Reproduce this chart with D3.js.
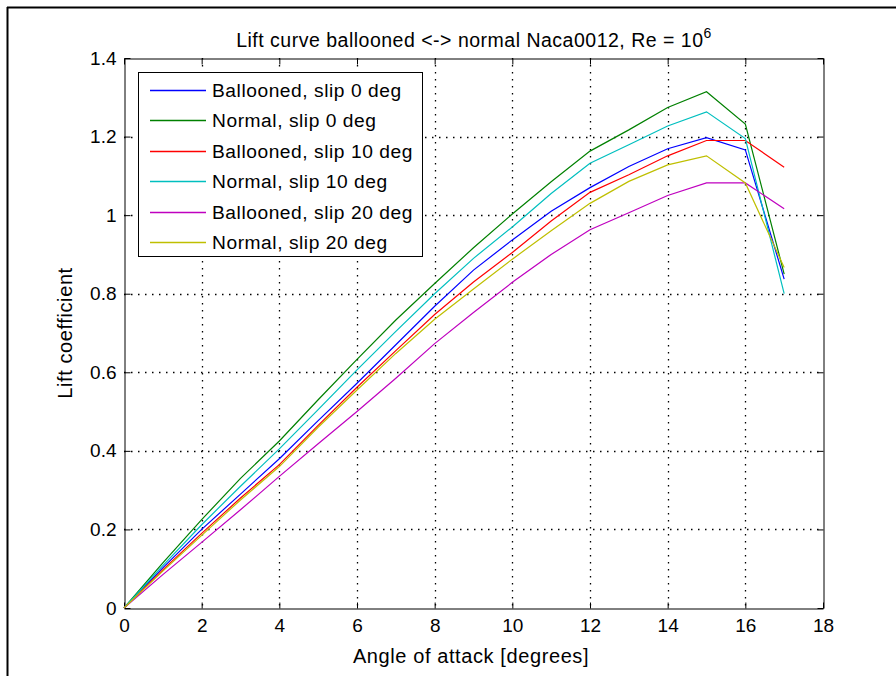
<!DOCTYPE html>
<html><head><meta charset="utf-8">
<script src="https://cdn.jsdelivr.net/npm/d3@7"></script>
<style>
body{margin:0;background:#fff;}
svg{display:block;font-family:"Liberation Sans",Arial,sans-serif;}
</style></head>
<body><svg id="c" width="896" height="676"></svg>
<script>
const angles = [0,1,2,3,4,5,6,7,8,9,10,11,12,13,14,15,16,17];
const balloonedSlip0 = [0,0.102,0.200,0.290,0.380,0.477,0.572,0.670,0.768,0.860,0.937,1.010,1.070,1.124,1.169,1.197,1.166,0.837];
const normalSlip0    = [0,0.115,0.225,0.330,0.425,0.530,0.633,0.733,0.826,0.917,1.003,1.085,1.163,1.217,1.274,1.314,1.232,0.850];
const balloonedSlip10= [0,0.097,0.190,0.280,0.365,0.465,0.562,0.655,0.747,0.830,0.905,0.985,1.058,1.103,1.151,1.190,1.190,1.122];
const normalSlip10   = [0,0.108,0.212,0.310,0.405,0.505,0.606,0.704,0.800,0.890,0.970,1.055,1.132,1.179,1.227,1.263,1.195,0.800];
const balloonedSlip20= [0,0.085,0.167,0.250,0.335,0.418,0.500,0.585,0.673,0.752,0.829,0.900,0.963,1.006,1.050,1.082,1.082,1.016];
const normalSlip20   = [0,0.094,0.185,0.275,0.360,0.460,0.555,0.648,0.735,0.812,0.888,0.960,1.030,1.086,1.128,1.151,1.082,0.867];
const seriesNames = ["Ballooned, slip 0 deg","Normal, slip 0 deg","Ballooned, slip 10 deg","Normal, slip 10 deg","Ballooned, slip 20 deg","Normal, slip 20 deg"];
const seriesValues = [balloonedSlip0,normalSlip0,balloonedSlip10,normalSlip10,balloonedSlip20,normalSlip20];
const seriesColors = ["#0000ff","#008000","#ff0000","#00bfbf","#bf00bf","#bfbf00"];
const xTicks = [0,2,4,6,8,10,12,14,16,18];
const yTicks = [0,0.2,0.4,0.6,0.8,1,1.2,1.4];

const svg = d3.select("#c");
const L=124,R=823,T=58,B=608;
const x = d3.scaleLinear().domain([0,18]).range([L,R]);
const y = d3.scaleLinear().domain([0,1.4]).range([B,T]);

// outer frame (top and left)
svg.append("line").attr("x1",7).attr("x2",896).attr("y1",7.5).attr("y2",7.5).attr("stroke","#000").attr("stroke-width",2);
svg.append("line").attr("x1",7.5).attr("x2",7.5).attr("y1",7).attr("y2",676).attr("stroke","#000").attr("stroke-width",2);

// grid
const g = svg.append("g");
xTicks.slice(1,-1).forEach(t=>{
  g.append("line").attr("x1",Math.round(x(t))+0.5).attr("x2",Math.round(x(t))+0.5).attr("y1",T).attr("y2",B)
   .attr("stroke","#000").attr("stroke-width",1.3).attr("stroke-dasharray","1.5,5.5");
});
yTicks.slice(1,-1).forEach(t=>{
  g.append("line").attr("y1",Math.round(y(t))+0.5).attr("y2",Math.round(y(t))+0.5).attr("x1",L).attr("x2",R)
   .attr("stroke","#000").attr("stroke-width",1.3).attr("stroke-dasharray","1.5,5.5");
});

// axes with inward ticks
const fmt = d=> d===0?"0":(Number.isInteger(d)?String(d):d3.format(".1f")(d));
const ax = svg.append("g").attr("transform",`translate(0,${B+0.5})`)
  .call(d3.axisBottom(x).tickValues(xTicks).tickSizeInner(-6).tickSizeOuter(0).tickPadding(12).tickFormat(fmt));
const axT = svg.append("g").attr("transform",`translate(0,${T+0.5})`)
  .call(d3.axisTop(x).tickValues(xTicks).tickSizeInner(-6).tickSizeOuter(0).tickFormat(""));
const ay = svg.append("g").attr("transform",`translate(${L+0.5},0)`)
  .call(d3.axisLeft(y).tickValues(yTicks).tickSizeInner(-6).tickSizeOuter(0).tickPadding(10).tickFormat(fmt));
const ayR = svg.append("g").attr("transform",`translate(${R+0.5},0)`)
  .call(d3.axisRight(y).tickValues(yTicks).tickSizeInner(-6).tickSizeOuter(0).tickFormat(""));
[ax,axT,ay,ayR].forEach(a=>{
  a.selectAll("path").attr("stroke","#000");
  a.selectAll("line").attr("stroke","#000");
  a.selectAll("text").attr("font-size",19).attr("fill","#000").attr("font-family","'Liberation Sans',Arial,sans-serif");
});
ax.selectAll("text").attr("dy","0.71em").attr("y",10);
ay.selectAll("text").attr("x",-8);

// lines
const line = d3.line().x((d,i)=>x(angles[i])).y(d=>y(d));
seriesValues.forEach((vals,i)=>{
  svg.append("path").datum(vals).attr("d",line).attr("fill","none")
    .attr("stroke",seriesColors[i]).attr("stroke-width",1.2);
});

// title
const title = svg.append("text").attr("x",474).attr("y",47).attr("text-anchor","middle").attr("font-size",19.5).attr("letter-spacing",0.5).attr("fill","#000");
title.append("tspan").text("Lift curve ballooned <-> normal Naca0012, Re = 10");
title.append("tspan").attr("dy",-9).attr("font-size",14).text("6");

// axis labels
svg.append("text").attr("x",471).attr("y",663).attr("text-anchor","middle").attr("font-size",20).attr("letter-spacing",0.6).attr("fill","#000").text("Angle of attack [degrees]");
svg.append("text").attr("transform","translate(72,333) rotate(-90)").attr("text-anchor","middle").attr("font-size",20).attr("letter-spacing",0.6).attr("fill","#000").text("Lift coefficient");

// legend
const lg = svg.append("g");
lg.append("rect").attr("x",138.5).attr("y",72.5).attr("width",284).attr("height",184).attr("fill","#fff").attr("stroke","#000");
seriesNames.forEach((n,i)=>{
  const yy = 89.5 + i*30.5;
  lg.append("line").attr("x1",150).attr("x2",206).attr("y1",Math.round(yy)+0.5).attr("y2",Math.round(yy)+0.5).attr("stroke",seriesColors[i]).attr("stroke-width",1.5);
  lg.append("text").attr("x",212).attr("y",yy+7).attr("font-size",19.2).attr("letter-spacing",0.55).attr("fill","#000").text(n);
});
</script></body></html>
